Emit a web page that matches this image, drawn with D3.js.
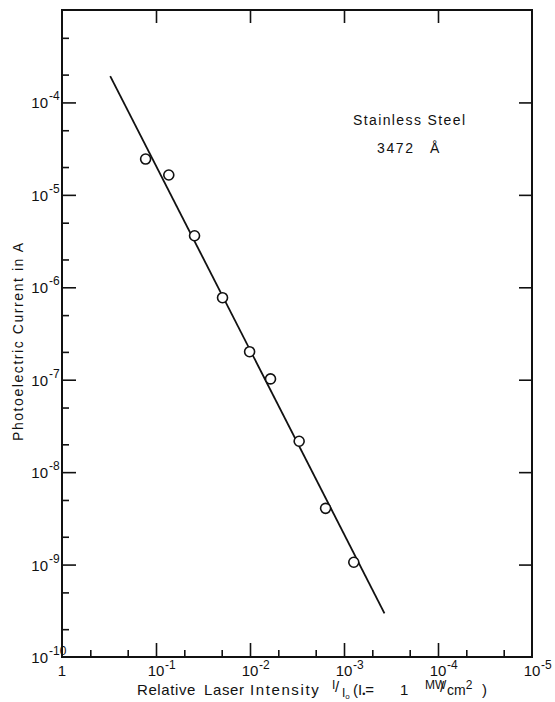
<!DOCTYPE html>
<html>
<head>
<meta charset="utf-8">
<script src="https://cdn.jsdelivr.net/npm/d3@7"></script>
<style>
  body { margin: 0; background: #fff; }
  text { font-family: "Liberation Sans", Arial, sans-serif; fill: #111; }
</style>
</head>
<body>
<div id="chart"></div>
<script>
// measured points (relative intensity I/Io, photoelectric current in A)
var intensity = [0.129, 0.0731, 0.0389, 0.0196, 0.0101, 0.00605, 0.0030, 0.00157, 0.000787];
var current = [2.44e-5, 1.64e-5, 3.61e-6, 7.71e-7, 2.01e-7, 1.02e-7, 2.16e-8, 4.06e-9, 1.06e-9];

// fitted straight line, end points
var fitIntensity = [0.307, 0.000371];
var fitCurrent = [1.93e-4, 2.97e-10];

// axis ticks
var xMajor = [1, 1e-1, 1e-2, 1e-3, 1e-4, 1e-5];
var xMajorExp = ["", "-1", "-2", "-3", "-4", "-5"];
var xMinor = [0.5, 0.2, 0.05, 0.02, 5e-3, 2e-3, 5e-4, 2e-4, 5e-5, 2e-5];
var yMajor = [1e-4, 1e-5, 1e-6, 1e-7, 1e-8, 1e-9, 1e-10];
var yMajorExp = ["-4", "-5", "-6", "-7", "-8", "-9", "-10"];
var yMinor = [5e-4, 2e-4, 5e-5, 2e-5, 5e-6, 2e-6, 5e-7, 2e-7, 5e-8, 2e-8, 5e-9, 2e-9, 5e-10, 2e-10];
var xInner = [1e-1, 1e-2, 1e-3, 1e-4];
var yInner = [1e-4, 1e-5, 1e-6, 1e-7, 1e-8, 1e-9];

var W = 555, H = 702;
var pLeft = 62, pRight = 532, pTop = 10, pBottom = 657;

var svg = d3.select("#chart").append("svg")
    .attr("width", W)
    .attr("height", H);

var x = d3.scaleLog().domain([1, 1e-5]).range([pLeft, pRight]);
var y = d3.scaleLog().domain([1e-10, 1e-3]).range([pBottom, pTop]);

// ---- ticks (all pointing into the frame)
function tickAxis(axis, values, size, tr) {
    var g = svg.append("g")
        .attr("transform", tr)
        .call(axis.tickValues(values).tickSize(size).tickFormat(""));
    g.select(".domain").remove();
    g.selectAll(".tick line").attr("stroke", "#111").attr("stroke-width", 1.6);
    return g;
}
tickAxis(d3.axisBottom(x), xMajor.slice(1, 5), -14, "translate(0," + pBottom + ")");
tickAxis(d3.axisBottom(x), xMinor, -7, "translate(0," + pBottom + ")");
tickAxis(d3.axisLeft(y), yMajor.slice(0, 6), -14, "translate(" + pLeft + ",0)");
tickAxis(d3.axisLeft(y), yMinor, -7, "translate(" + pLeft + ",0)");
tickAxis(d3.axisTop(x), xInner, -13, "translate(0," + pTop + ")");
tickAxis(d3.axisRight(y), yInner, -13, "translate(" + pRight + ",0)");

// frame
svg.append("rect")
    .attr("x", pLeft).attr("y", pTop)
    .attr("width", pRight - pLeft).attr("height", pBottom - pTop)
    .attr("fill", "none")
    .attr("stroke", "#111")
    .attr("stroke-width", 2);

// ---- tick labels
xMajor.forEach(function (v, i) {
    svg.append("text")
        .attr("x", x(v))
        .attr("y", pBottom + 19)
        .attr("text-anchor", "middle")
        .style("font-size", "15px")
        .text(i == 0 ? "1" : "10");
    if (xMajorExp[i] != "") {
        svg.append("text")
            .attr("x", x(v) + 9)
            .attr("y", pBottom + 12)
            .style("font-size", "12px")
            .text(xMajorExp[i]);
    }
});

yMajor.forEach(function (v, i) {
    svg.append("text")
        .attr("x", 48)
        .attr("y", y(v) + 6)
        .attr("text-anchor", "end")
        .style("font-size", "15px")
        .text("10");
    svg.append("text")
        .attr("x", 49)
        .attr("y", y(v) - 2)
        .style("font-size", "12px")
        .text(yMajorExp[i]);
});

// ---- axis titles
svg.append("text")
    .attr("transform", "translate(23," + 342 + ") rotate(-90)")
    .attr("text-anchor", "middle")
    .attr("textLength", 198)
    .attr("lengthAdjust", "spacing")
    .style("font-size", "14px")
    .text("Photoelectric  Current  in  A");

var xt = svg.append("text")
    .attr("y", 695)
    .style("font-size", "15px");
xt.append("tspan").attr("x", 137).style("letter-spacing", "0.6px").text("Relative");
xt.append("tspan").attr("x", 204).style("letter-spacing", "0.6px").text("Laser");
xt.append("tspan").attr("x", 250).style("letter-spacing", "1.6px").text("Intensity");
xt.append("tspan").attr("x", 332).attr("dy", -6).style("font-size", "12px").text("I");
xt.append("tspan").attr("x", 335).attr("dy", 3).style("font-size", "15px").text("/");
xt.append("tspan").attr("x", 342).attr("dy", 5).style("font-size", "12px").text("I");
xt.append("tspan").attr("dy", 2).style("font-size", "8px").text("o");
xt.append("tspan").attr("x", 353).attr("dy", -4).text("(I");
xt.append("tspan").attr("dy", 2).style("font-size", "9px").text("•");
xt.append("tspan").attr("dy", -2).text("=");
xt.append("tspan").attr("x", 400).text("1");
xt.append("tspan").attr("x", 425).attr("dy", -6).style("font-size", "12px").text("MW");
xt.append("tspan").attr("x", 440).attr("dy", 3).style("font-size", "15px").text("/");
xt.append("tspan").attr("x", 447).attr("dy", 3).style("font-size", "14px").text("cm");
xt.append("tspan").attr("dy", -6).style("font-size", "12px").text("2");
xt.append("tspan").attr("x", 482).attr("dy", 6).text(")");

// ---- annotation
svg.append("text")
    .attr("x", 353).attr("y", 125)
    .attr("textLength", 112)
    .attr("lengthAdjust", "spacing")
    .style("font-size", "14px")
    .text("Stainless  Steel");
svg.append("text")
    .attr("x", 377).attr("y", 153)
    .style("font-size", "14px")
    .style("letter-spacing", "1.6px")
    .text("3472");
svg.append("text")
    .attr("x", 430).attr("y", 153)
    .style("font-size", "14px")
    .text("Å");

// ---- fitted line
var fit = fitIntensity.map(function (d, i) { return [d, fitCurrent[i]]; });
svg.append("path")
    .datum(fit)
    .attr("fill", "none")
    .attr("stroke", "#111")
    .attr("stroke-width", 1.8)
    .attr("d", d3.line()
        .x(function (d) { return x(d[0]); })
        .y(function (d) { return y(d[1]); }));

// ---- data circles
svg.selectAll("circle.pt")
    .data(intensity)
    .enter()
    .append("circle")
    .attr("class", "pt")
    .attr("cx", function (d) { return x(d); })
    .attr("cy", function (d, i) { return y(current[i]); })
    .attr("r", 5)
    .attr("fill", "#fff")
    .attr("stroke", "#111")
    .attr("stroke-width", 1.6);
</script>
</body>
</html>
